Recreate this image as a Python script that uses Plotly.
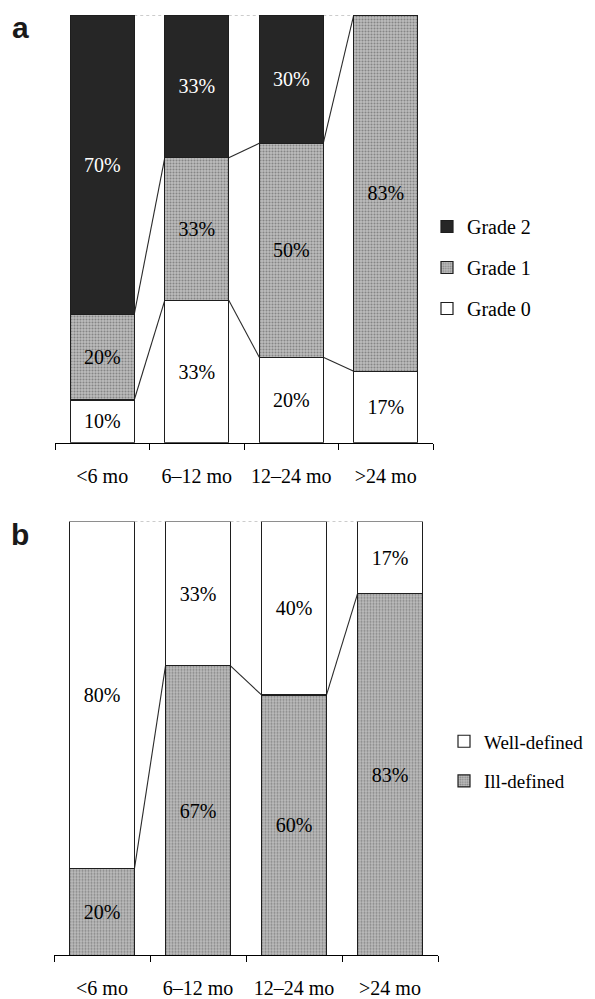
import plotly.graph_objects as go

categories = ["<6 mo", "6–12 mo", "12–24 mo", ">24 mo"]

# Panel a: grade distribution (%)
grade0 = [10, 33.3, 20, 16.7]
grade1 = [20, 33.3, 50, 83.3]
grade2 = [70, 33.4, 30, 0]

# Panel b: margin definition (%)
ill_defined = [20, 66.7, 60, 83.3]
well_defined = [80, 33.3, 40, 16.7]

# page body has an 8px margin; figure is sized so its right/bottom edges meet the window
OX, OY = 8, 8
W, H = 595 - OX, 999 - OY
BARGAP = 0.323
HALF = (1 - BARGAP) / 2


def px(x):
    return (x - OX) / W


def py(y):
    return (H - (y - OY)) / H


SERIF = "Liberation Serif, Times New Roman, serif"
DARK = "#262626"
GRAY = "#aaaaaa"
LINE = "#1e1e1e"
FS = 20


def labels(vals):
    return [f"{v:.0f}%" if v > 0 else "" for v in vals]


def gray_marker():
    return dict(color=GRAY, line=dict(color=LINE, width=1.2),
                pattern=dict(shape=".", fgcolor="#4a4a4a", bgcolor="#bebebe",
                             size=3, solidity=0.4))


fig = go.Figure()

common = dict(textposition="inside", insidetextanchor="middle", textangle=0,
              constraintext="none", cliponaxis=False, hoverinfo="skip")

# ---- panel a ----
fig.add_trace(go.Bar(x=categories, y=grade0, name="Grade 0", text=labels(grade0),
                     marker=dict(color="white", line=dict(color=LINE, width=1.2)),
                     textfont=dict(family=SERIF, size=FS, color="black"),
                     xaxis="x", yaxis="y", legend="legend", legendgroup="g0", legendrank=3, **common))
fig.add_trace(go.Bar(x=categories, y=grade1, name="Grade 1", text=labels(grade1),
                     marker=gray_marker(),
                     textfont=dict(family=SERIF, size=FS, color="black"),
                     xaxis="x", yaxis="y", legend="legend", legendgroup="g1", legendrank=2, **common))
fig.add_trace(go.Bar(x=categories, y=grade2, name="Grade 2", text=labels(grade2),
                     marker=dict(color=DARK, line=dict(color=LINE, width=1.2)),
                     textfont=dict(family=SERIF, size=FS, color="white"),
                     xaxis="x", yaxis="y", legend="legend", legendgroup="g2", legendrank=1, **common))

# ---- panel b ----
fig.add_trace(go.Bar(x=categories, y=ill_defined, name="Ill-defined", text=labels(ill_defined),
                     marker=gray_marker(),
                     textfont=dict(family=SERIF, size=FS, color="black"),
                     xaxis="x2", yaxis="y2", legend="legend2", legendgroup="b0", legendrank=2, **common))
fig.add_trace(go.Bar(x=categories, y=well_defined, name="Well-defined", text=labels(well_defined),
                     marker=dict(color="white", line=dict(color=LINE, width=1.2)),
                     textfont=dict(family=SERIF, size=FS, color="black"),
                     xaxis="x2", yaxis="y2", legend="legend2", legendgroup="b1", legendrank=1, **common))


def cumulative(*series):
    out, run = [], [0] * len(series[0])
    for s in series:
        run = [a + b for a, b in zip(run, s)]
        out.append(run)
    return out


def connectors(xref, yref, levels_list):
    n = len(categories)
    for k, lev in enumerate(levels_list):
        top = k == len(levels_list) - 1
        for i in range(n - 1):
            fig.add_shape(type="line", xref=xref, yref=yref,
                          x0=i + HALF, x1=i + 1 - HALF, y0=lev[i], y1=lev[i + 1],
                          line=dict(color="#9a9a9a" if top else "#2a2a2a",
                                    width=1.1, dash="dot" if top else "solid"),
                          layer="below")


connectors("x", "y", cumulative(grade0, grade1, grade2))
connectors("x2", "y2", cumulative(ill_defined, well_defined))

xcommon = dict(type="category", tickson="boundaries", ticks="outside", ticklen=6,
               tickcolor="black", tickwidth=1.2, showline=True, linecolor="black",
               linewidth=1.2, showgrid=False, zeroline=False, range=[-0.5, 3.5],
               tickfont=dict(family=SERIF, size=FS, color="black"),
               ticklabelstandoff=15, fixedrange=True)
ycommon = dict(range=[0, 100], visible=False, showgrid=False, fixedrange=True)

legend_common = dict(bgcolor="rgba(0,0,0,0)", traceorder="grouped",
                     tracegroupgap=12, xanchor="left", yanchor="top",
                     itemclick=False, itemdoubleclick=False)

label_font = dict(family="Liberation Sans, Arial, sans-serif", size=30, color="#1a1a1a")

fig.update_layout(
    width=W, height=H,
    margin=dict(l=0, r=0, t=0, b=0),
    paper_bgcolor="white", plot_bgcolor="white",
    barmode="stack", bargap=BARGAP,
    xaxis=dict(domain=[px(55), px(433)], anchor="y", **xcommon),
    yaxis=dict(domain=[py(445), py(15)], anchor="x", **ycommon),
    xaxis2=dict(domain=[px(54), px(438)], anchor="y2", **xcommon),
    yaxis2=dict(domain=[py(960), py(524)], anchor="x2", **ycommon),
    legend=dict(x=px(427), y=py(208), font=dict(family=SERIF, size=20, color="black"),
                **legend_common),
    legend2=dict(x=px(444), y=py(726), font=dict(family=SERIF, size=19, color="black"),
                 **legend_common),
    showlegend=True,
    annotations=[
        dict(text="<b>a</b>", x=px(20), y=py(28), xref="paper", yref="paper",
             xanchor="center", yanchor="middle", showarrow=False, font=label_font),
        dict(text="<b>b</b>", x=px(20), y=py(537), xref="paper", yref="paper",
             xanchor="center", yanchor="middle", showarrow=False, font=label_font),
    ],
)

fig.write_html("out.html")
